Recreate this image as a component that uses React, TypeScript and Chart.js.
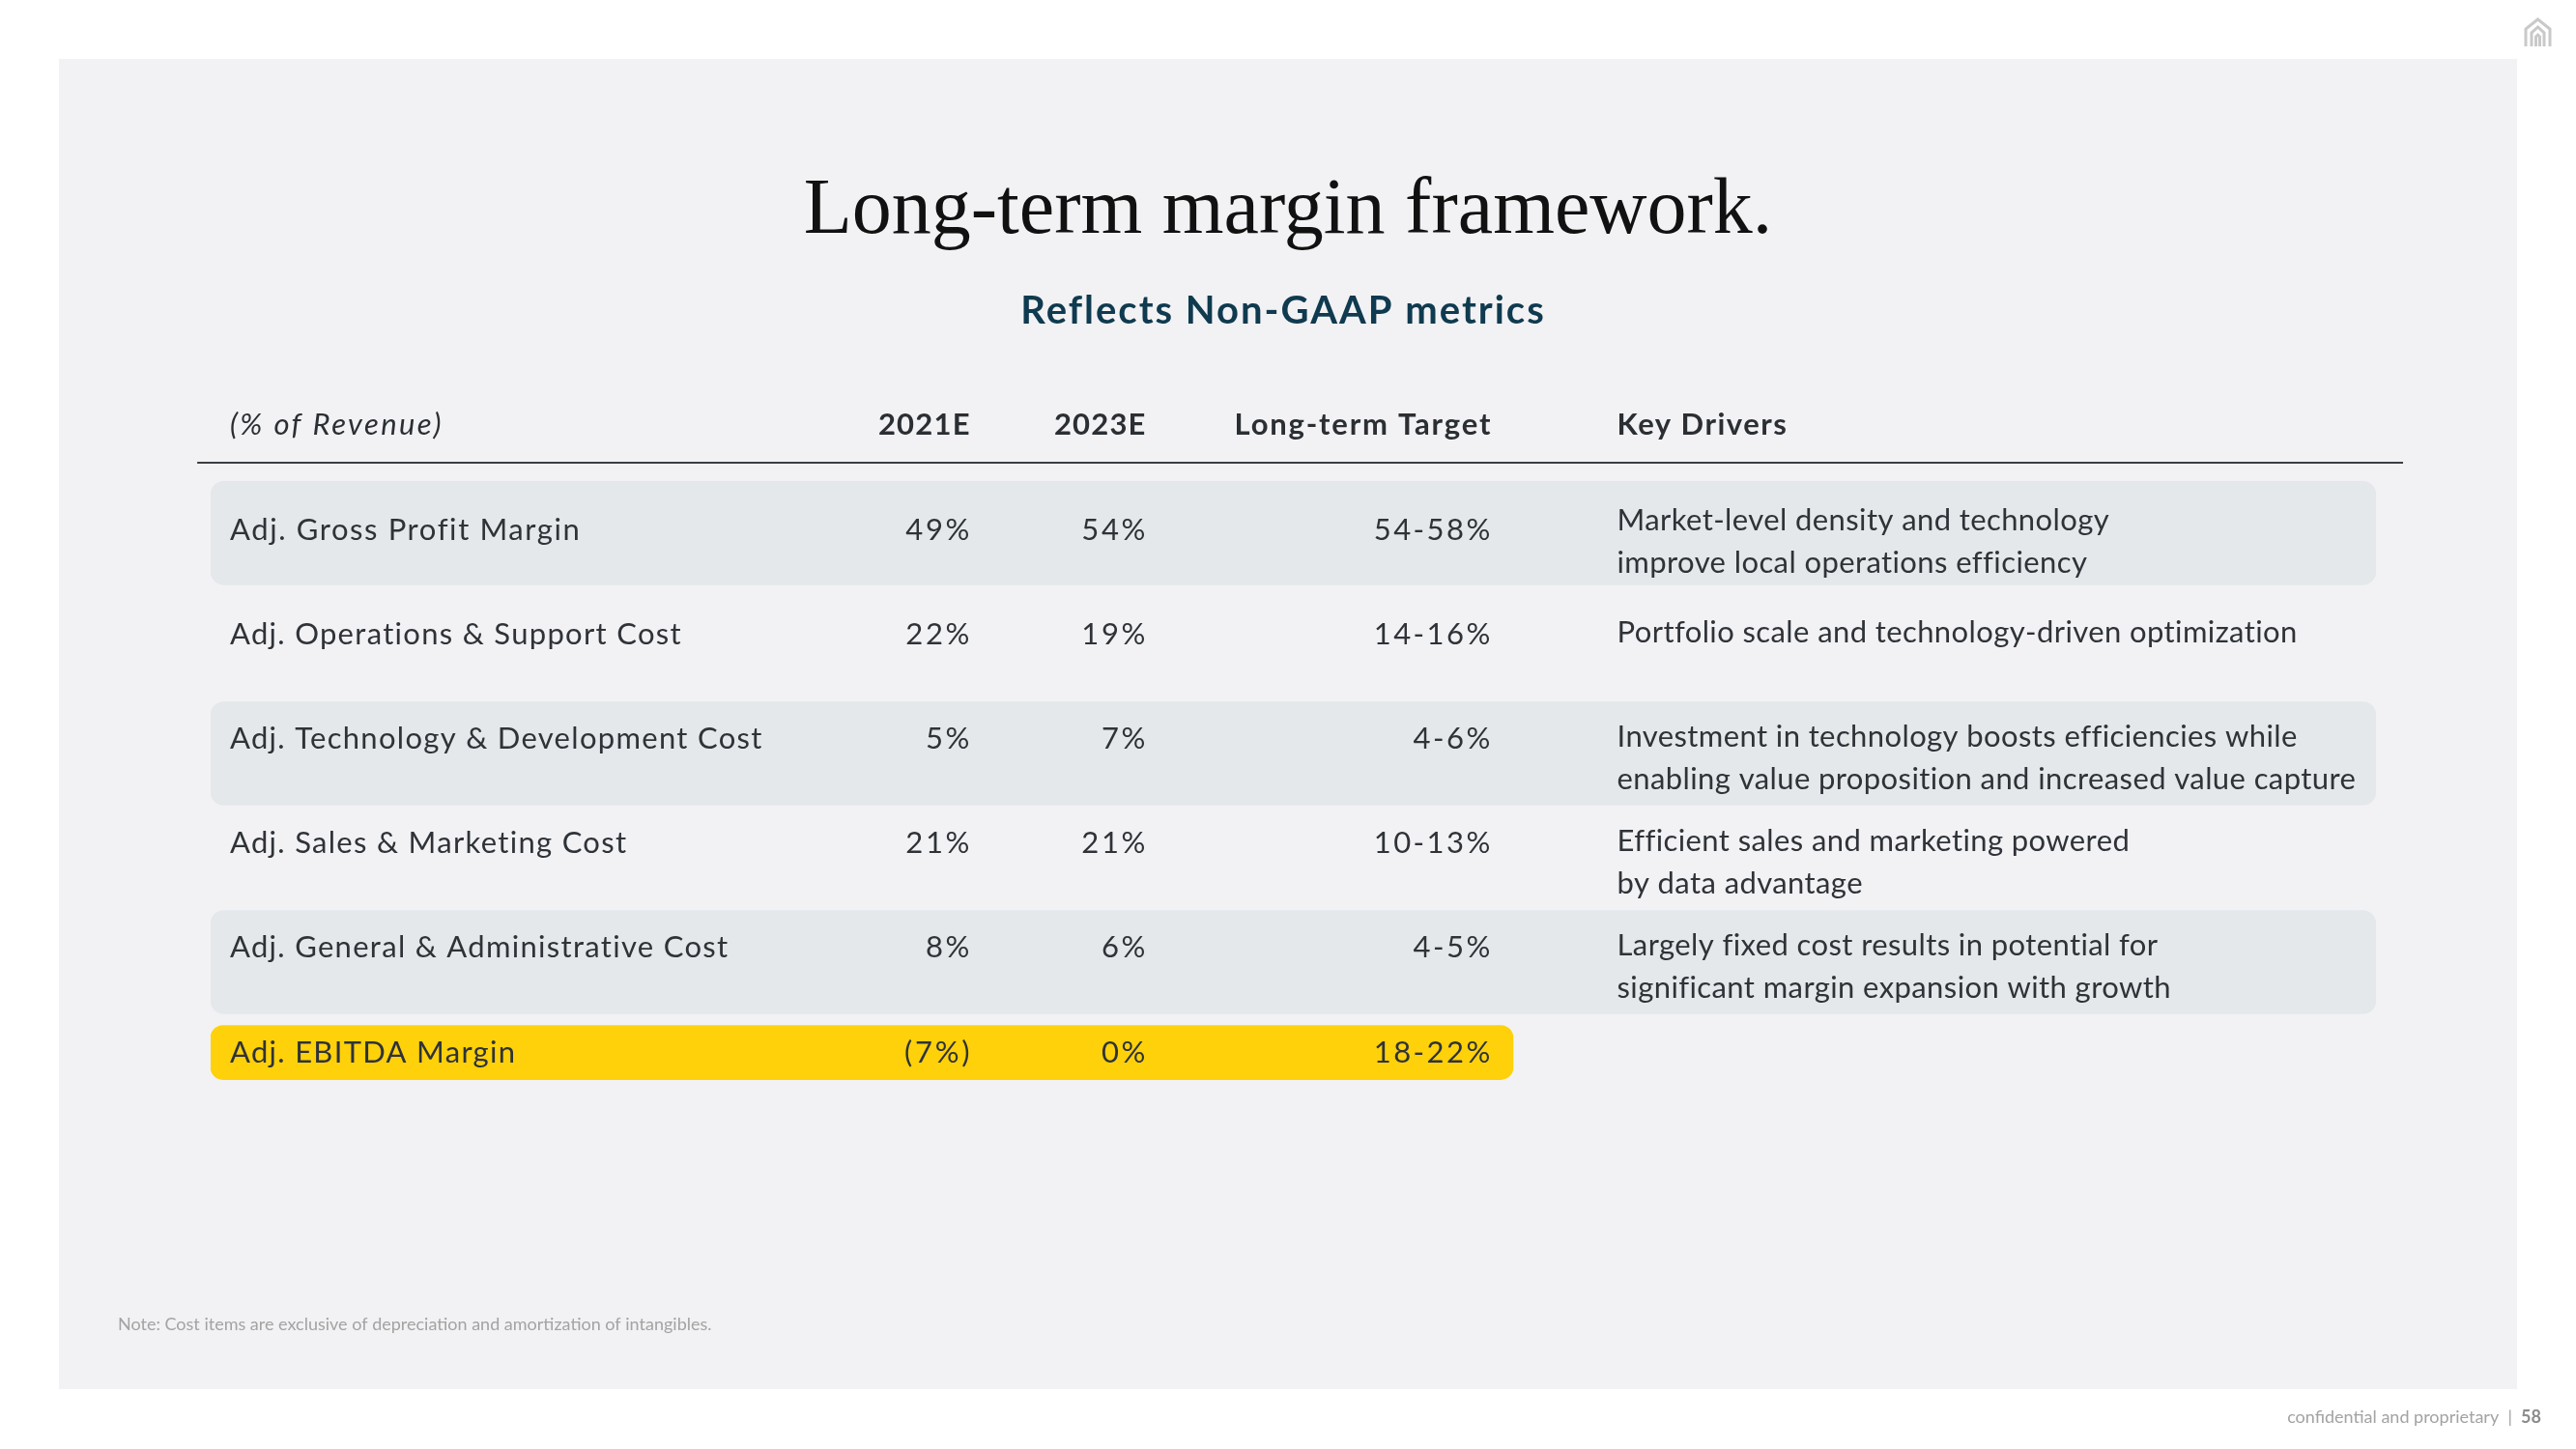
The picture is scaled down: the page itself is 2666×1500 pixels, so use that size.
import React, { useEffect, useRef } from "react";
import { Chart, registerables } from "chart.js";

Chart.register(...registerables);

// ---------- content ----------
const titleText = "Long-term margin framework.";
const subtitleText = "Reflects Non-GAAP metrics";
const headerLabels = ["(% of Revenue)", "2021E", "2023E", "Long-term Target", "Key Drivers"];
const rowLabels = [
  "Adj. Gross Profit Margin",
  "Adj. Operations & Support Cost",
  "Adj. Technology & Development Cost",
  "Adj. Sales & Marketing Cost",
  "Adj. General & Administrative Cost",
  "Adj. EBITDA Margin",
];
const values2021E = ["49%", "22%", "5%", "21%", "8%", "(7%)"];
const values2023E = ["54%", "19%", "7%", "21%", "6%", "0%"];
const longTermTarget = ["54-58%", "14-16%", "4-6%", "10-13%", "4-5%", "18-22%"];
const keyDrivers: string[][] = [
  ["Market-level density and technology", "improve local operations efficiency"],
  ["Portfolio scale and technology-driven optimization"],
  ["Investment in technology boosts efficiencies while", "enabling value proposition and increased value capture"],
  ["Efficient sales and marketing powered", "by data advantage"],
  ["Largely fixed cost results in potential for", "significant margin expansion with growth"],
  [],
];
const shadedRows = [true, false, true, false, true, false];
const highlightedRows = [false, false, false, false, false, true];
const footnoteText = "Note: Cost items are exclusive of depreciation and amortization of intangibles.";
const footerText = "confidential and proprietary";
const pageNumber = "58";

// ---------- layout (x in table units 0..100, y in row units) ----------
const COL_LABEL = 0.89;
const COL_2021 = 35.05;
const COL_2023 = 43.17;
const COL_LT = 59.1;
const COL_DRIVERS = 64.95;
const HIGHLIGHT_END = 60.15;
const BAND_SHIFT = [0.03, 0, 0.139, 0, 0.135, 0];
const W = 2666;
const H = 1500;

const SANS = "Lato, 'Noto Sans', sans-serif";
const SERIF = "'Liberation Serif', 'DejaVu Serif', serif";

function txt(ctx: any, s: string, x: number, y: number, align: string, ls: number) {
  ctx.letterSpacing = `${ls}px`;
  ctx.textAlign = align;
  ctx.fillText(s, align === "right" ? x + ls : align === "center" ? x + ls / 2 : x, y);
}

const tablePlugin = {
  id: "tablePlugin",
  beforeDraw(chart: any) {
    const ctx = chart.ctx;
    ctx.save();
    ctx.fillStyle = "#ffffff";
    ctx.fillRect(0, 0, W, H);
    ctx.fillStyle = "#f2f2f4";
    ctx.fillRect(61, 61, 2605 - 61, 1438 - 61);
    ctx.restore();
  },
  afterDatasetsDraw(chart: any) {
    const ctx = chart.ctx;
    const xs = chart.scales.x;
    const ys = chart.scales.y;
    const px = (v: number) => xs.getPixelForValue(v);
    const rowY = (i: number) => ys.getPixelForValue(i);
    const headerY = ys.getPixelForValue(-1);

    ctx.save();
    ctx.textBaseline = "middle";

    // title + subtitle
    ctx.fillStyle = "#111111";
    ctx.font = `400 82px ${SERIF}`;
    txt(ctx, titleText, W / 2, 219, "center", 0);
    ctx.fillStyle = "#0f3a4f";
    ctx.font = `700 40px ${SANS}`;
    txt(ctx, subtitleText, W / 2 - 6, 322, "center", 2);

    // header
    ctx.fillStyle = "#2b2f33";
    ctx.font = `italic 400 31px ${SANS}`;
    txt(ctx, headerLabels[0], px(COL_LABEL), headerY, "left", 2.4);
    ctx.font = `700 31px ${SANS}`;
    txt(ctx, headerLabels[1], px(COL_2021), headerY, "right", 1.2);
    txt(ctx, headerLabels[2], px(COL_2023), headerY, "right", 1.2);
    txt(ctx, headerLabels[3], px(COL_LT), headerY, "right", 1.8);
    txt(ctx, headerLabels[4], px(COL_DRIVERS), headerY, "left", 1.5);

    // header rule
    ctx.strokeStyle = "#3c3f43";
    ctx.lineWidth = 2;
    ctx.beginPath();
    ctx.moveTo(px(-0.62), headerY + 38.5);
    ctx.lineTo(px(101.25), headerY + 38.5);
    ctx.stroke();

    // rows
    ctx.font = `400 31px ${SANS}`;
    ctx.fillStyle = "#2f3338";
    rowLabels.forEach((label, i) => {
      const y = rowY(i);
      txt(ctx, label, px(COL_LABEL), y, "left", i === 0 ? 1.6 : 1.3);
      txt(ctx, values2021E[i], px(COL_2021), y, "right", 2.7);
      txt(ctx, values2023E[i], px(COL_2023), y, "right", 2.7);
      txt(ctx, longTermTarget[i], px(COL_LT), y, "right", 2.5);
      const lines = keyDrivers[i];
      const start = i === 0 ? y - 10 : y - 2;
      lines.forEach((ln, k) => txt(ctx, ln, px(COL_DRIVERS), start + k * 44, "left", 0.4));
    });

    // footnote
    ctx.fillStyle = "#a3a3a3";
    ctx.font = `400 18px ${SANS}`;
    txt(ctx, footnoteText, 122, 1371, "left", 0);

    // footer
    ctx.font = `700 18px ${SANS}`;
    ctx.fillStyle = "#8c8c8c";
    ctx.letterSpacing = "0px";
    const numW = ctx.measureText(pageNumber).width;
    txt(ctx, pageNumber, 2630, 1467, "right", 0);
    ctx.font = `400 18px ${SANS}`;
    ctx.fillStyle = "#a3a3a3";
    txt(ctx, footerText + "  |  ", 2630 - numW, 1467, "right", 0);

    // logo icon
    ctx.strokeStyle = "#c9c9c9";
    ctx.lineWidth = 3;
    ctx.beginPath();
    ctx.moveTo(2614, 48);
    ctx.lineTo(2614, 30);
    ctx.lineTo(2626.5, 20);
    ctx.lineTo(2639, 30);
    ctx.lineTo(2639, 48);
    ctx.stroke();
    ctx.beginPath();
    ctx.moveTo(2620, 48);
    ctx.lineTo(2620, 34);
    ctx.lineTo(2626.5, 28);
    ctx.lineTo(2633, 34);
    ctx.lineTo(2633, 48);
    ctx.stroke();
    ctx.beginPath();
    ctx.moveTo(2624.5, 48);
    ctx.lineTo(2624.5, 38);
    ctx.lineTo(2626.5, 36);
    ctx.lineTo(2628.5, 38);
    ctx.lineTo(2628.5, 48);
    ctx.stroke();

    ctx.restore();
  },
};

export default function App() {
  const ref = useRef<HTMLCanvasElement | null>(null);
  useEffect(() => {
    if (!ref.current) return;
    const shadedData = shadedRows
      .map((s, i) => (s ? { x: [0, 100], y: i + BAND_SHIFT[i] } : null))
      .filter(Boolean);
    const highlightData = highlightedRows
      .map((h, i) => (h ? { x: [0, HIGHLIGHT_END], y: i + BAND_SHIFT[i] } : null))
      .filter(Boolean);
    const chart = new Chart(ref.current, {
      type: "bar",
      data: {
        datasets: [
          {
            label: "shaded",
            data: shadedData as any,
            backgroundColor: "#e4e8eb",
            barThickness: 107,
            borderRadius: 14,
            borderSkipped: false,
            grouped: false,
          } as any,
          {
            label: "highlight",
            data: highlightData as any,
            backgroundColor: "#fed10a",
            barThickness: 56,
            borderRadius: 13,
            borderSkipped: false,
            grouped: false,
          } as any,
        ],
      },
      options: {
        indexAxis: "y",
        responsive: false,
        animation: false,
        devicePixelRatio: 1,
        layout: { padding: { left: 218, right: W - 2459, top: 494.5, bottom: H - 1143.7 } },
        plugins: { legend: { display: false }, tooltip: { enabled: false }, title: { display: false } },
        scales: {
          x: { type: "linear", min: 0, max: 100, display: false },
          y: { type: "linear", min: -0.5, max: 5.5, reverse: true, offset: false, display: false },
        },
      },
      plugins: [tablePlugin],
    });
    return () => chart.destroy();
  }, []);
  return (
    <div style={{ position: "fixed", left: 0, top: 0, width: W, height: H }}>
      <canvas ref={ref} width={W} height={H} style={{ width: W, height: H, display: "block" }} />
    </div>
  );
}
